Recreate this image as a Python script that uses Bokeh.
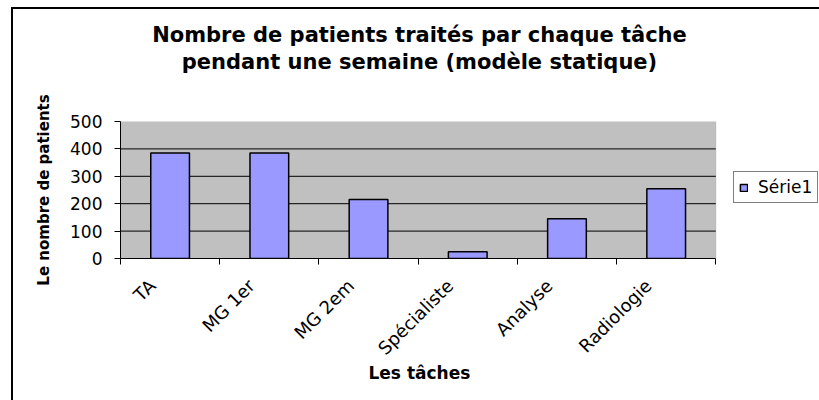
import math
from bokeh.plotting import figure
from bokeh.layouts import column
from bokeh.models import (Range1d, FixedTicker, Legend, LegendItem, Div, Title,
                          ColumnDataSource, BoxAnnotation)
from bokeh.embed import file_html
from bokeh.resources import INLINE

# ---- data ----
categories = ["TA", "MG 1er", "MG 2em", "Spécialiste", "Analyse", "Radiologie"]
patients = [385, 385, 215, 25, 145, 255]
y_ticks = [0, 100, 200, 300, 400, 500]
series_name = "Série1"
title_line1 = "Nombre de patients traités par chaque tâche"
title_line2 = "pendant une semaine (modèle statique)"
x_title = "Les tâches"
y_title = "Le nombre de patients"

positions = [i + 0.5 for i in range(len(categories))]
boundaries = list(range(len(categories) + 1))
label_shift = 0.18  # rotated labels end slightly left of the bar centre
label_positions = [x - label_shift for x in positions]
n_cat = len(categories)
inner_grid = y_ticks[1:-1]

FONT = "DejaVu Sans"
W = 806
TITLE_H = 80
LEFT = 107          # space left of the plot area
AREA_W = 595.3      # pixel width of the grey plot area
FRAME_W = W - LEFT  # frame reaches the right edge so that the legend fits in it

title_div = Div(
    text=(f'<div style="width:{W}px;padding-top:13px;padding-left:7px;box-sizing:border-box;'
          f'text-align:center;font-family:\'{FONT}\';font-weight:bold;font-size:21px;'
          f'line-height:26.6px;color:black;">{title_line1}<br>{title_line2}</div>'),
    width=W, height=TITLE_H, margin=0)

p = figure(width=W, height=391 - TITLE_H, output_backend="svg", toolbar_location=None,
           title=None,
           x_range=Range1d(0, n_cat * FRAME_W / AREA_W), y_range=Range1d(0, y_ticks[-1]),
           min_border_left=LEFT, min_border_right=0,
           min_border_top=112 - TITLE_H, min_border_bottom=142,
           background_fill_color="white", border_fill_color="white",
           outline_line_color=None, margin=0)

# grey plot area
area = BoxAnnotation(left=0, right=n_cat, bottom=y_ticks[0], top=y_ticks[-1],
                     fill_color="#C0C0C0", fill_alpha=1,
                     line_color="#808080", line_width=1, level="image")
p.add_layout(area)

# horizontal grid lines limited to the plot area
p.segment(x0=[0] * len(inner_grid), x1=[n_cat] * len(inner_grid),
          y0=inner_grid, y1=inner_grid, line_color="black", line_width=1,
          level="underlay")

src = ColumnDataSource(dict(x=positions, top=patients, cat=categories))
r = p.vbar(x="x", top="top", width=0.39, source=src, fill_color="#9999FF",
           line_color="black", line_width=1.5)

# x axis
p.xaxis.bounds = (0, n_cat)
p.xaxis.ticker = FixedTicker(ticks=label_positions, minor_ticks=boundaries)
p.xaxis.major_label_overrides = {pos: cat for pos, cat in zip(label_positions, categories)}
p.xaxis.major_label_orientation = math.pi / 4
p.xaxis.major_tick_line_color = None
p.xaxis.major_tick_out = 0
p.xaxis.major_tick_in = 0
p.xaxis.minor_tick_line_color = "black"
p.xaxis.minor_tick_out = 6
p.xaxis.minor_tick_in = 0
p.xaxis.axis_line_color = "black"
p.xaxis.major_label_standoff = 18
p.xaxis.major_label_text_font = FONT
p.xaxis.major_label_text_font_size = "18px"
p.xaxis.major_label_text_color = "black"

# x axis title, centred under the plot area
x_label = Title(text=x_title, align="left", offset=248, vertical_align="top",
                standoff=-14, text_font=FONT, text_font_size="17px",
                text_font_style="bold", text_color="black")
p.add_layout(x_label, "below")

# y axis
p.yaxis.ticker = FixedTicker(ticks=y_ticks, minor_ticks=[])
p.yaxis.minor_tick_line_color = None
p.yaxis.major_tick_out = 6
p.yaxis.major_tick_in = 0
p.yaxis.major_tick_line_color = "black"
p.yaxis.axis_line_color = "black"
p.yaxis.major_label_standoff = 12
p.yaxis.major_label_text_font = FONT
p.yaxis.major_label_text_font_size = "17px"
p.yaxis.major_label_text_color = "black"
p.yaxis.axis_label = y_title
p.yaxis.axis_label_text_font = FONT
p.yaxis.axis_label_text_font_size = "15px"
p.yaxis.axis_label_text_font_style = "bold"
p.yaxis.axis_label_text_color = "black"
p.yaxis.axis_label_standoff = 14

p.xgrid.visible = False
p.ygrid.visible = False

legend = Legend(items=[LegendItem(label=series_name, renderers=[r])],
                location=(613, 55), margin=0, padding=5,
                glyph_width=9, glyph_height=9, label_standoff=10,
                label_text_font=FONT, label_text_font_size="17px",
                label_text_color="black",
                border_line_color="black", border_line_width=1,
                background_fill_color="white", background_fill_alpha=1)
p.add_layout(legend, "center")

layout = column(title_div, p, spacing=0,
                styles={"margin-left": "11px", "margin-top": "7px",
                        "border-left": "2px solid black", "border-top": "2px solid black"})

open("out.html", "w").write(file_html(layout, INLINE))
